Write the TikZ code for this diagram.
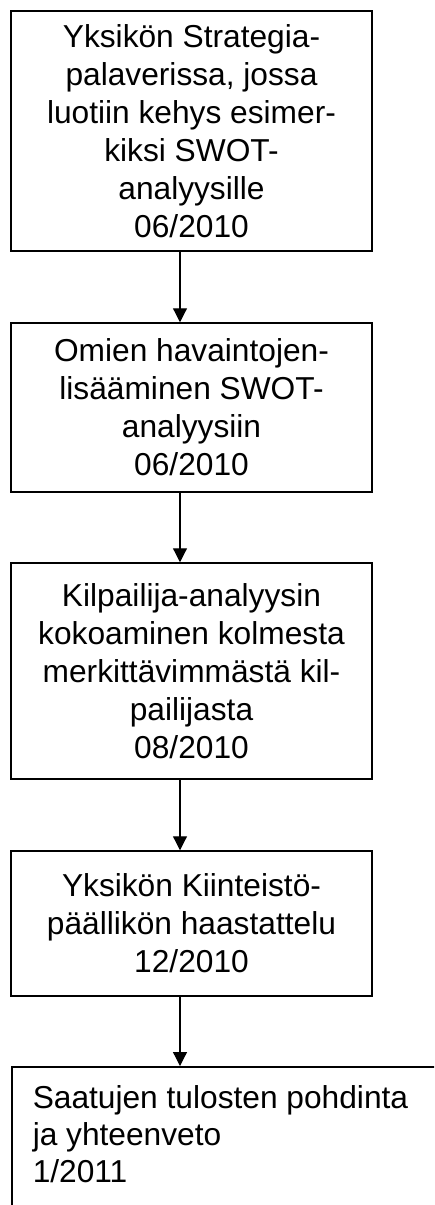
\documentclass[tikz,border=0pt]{standalone}
\usepackage{fontspec}
\setmainfont{Liberation Sans}
\usetikzlibrary{arrows.meta}
\begin{document}
\begin{tikzpicture}[x=1pt,y=1pt,
  boxstyle/.style={draw, line width=1.5pt, minimum width=361pt, inner sep=0pt, align=center,
    font=\fontsize{31.7}{38}\selectfont},
  lastbox/.style={draw, line width=1.5pt, anchor=north west, inner xsep=21pt, inner ysep=19pt,
    font=\fontsize{31.7}{37}\selectfont},
  flowarrow/.style={line width=1.2pt, -{Triangle[width=14pt,length=14pt]}}]
\useasboundingbox (0,0) rectangle (434,-1205);
\clip (0,0) rectangle (434,-1205);
\coordinate (ax) at (180,0);
\node[boxstyle, minimum height=240pt] (a) at (191.5,-131)
  {Yksikön Strategia-\\palaverissa, jossa\\luotiin kehys esimer-\\kiksi SWOT-\\analyysille\\06/2010};
\node[boxstyle, minimum height=169pt] (b) at (191.5,-407.5)
  {Omien havaintojen-\\lisääminen SWOT-\\analyysiin\\06/2010};
\node[boxstyle, minimum height=216pt] (c) at (191.5,-671)
  {Kilpailija-analyysin\\kokoaminen kolmesta\\merkittävimmästä kil-\\pailijasta\\08/2010};
\node[boxstyle, minimum height=145pt] (d) at (191.5,-923.5)
  {Yksikön Kiinteistö-\\päällikön haastattelu\\12/2010};
\node[lastbox] (e) at (11,-1066)
  {\parbox[t][180pt][t]{420pt}{\raggedright Saatujen tulosten pohdinta\\ja yhteenveto\\1/2011}};
\draw[flowarrow] (a.south -| ax) -- (b.north -| ax);
\draw[flowarrow] (b.south -| ax) -- (c.north -| ax);
\draw[flowarrow] (c.south -| ax) -- (d.north -| ax);
\draw[flowarrow] (d.south -| ax) -- (e.north -| ax);
\end{tikzpicture}
\end{document}
